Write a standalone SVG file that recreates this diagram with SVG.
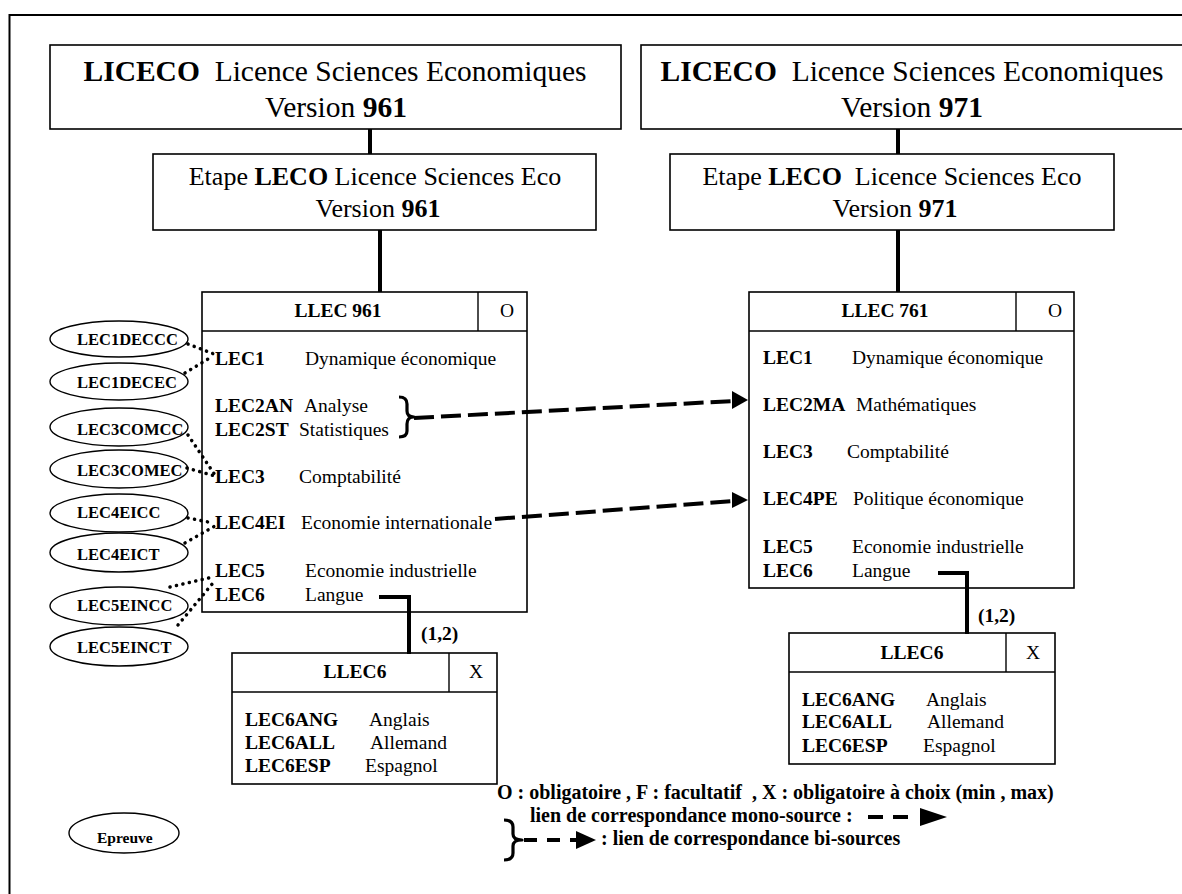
<svg xmlns="http://www.w3.org/2000/svg" width="1182" height="894" viewBox="0 0 1182 894">
<style>
.box{fill:#fff;stroke:#000;stroke-width:1.6}
.sep{stroke:#000;stroke-width:1.4;fill:none}
.t{font-family:"Liberation Serif","Times New Roman",serif;fill:#000}
.b{font-weight:bold}
.s29{font-size:29.5px}
.s26{font-size:26px}
.s19{font-size:19.5px}
.s20{font-size:20px}
.s16{font-size:16.5px}
.mid{text-anchor:middle}
.conn{stroke:#000;stroke-width:4;fill:none}
.dash{stroke:#000;stroke-width:4;fill:none;stroke-dasharray:20 7}
.dot{stroke:#000;stroke-width:3.5;fill:none;stroke-dasharray:0.1 6.5;stroke-linecap:round}
.brace{stroke:#000;stroke-width:3.2;fill:none;stroke-linejoin:round}
.ell{fill:#fff;stroke:#000;stroke-width:1.4}
</style>
<rect x="9.5" y="15" width="1200" height="900" fill="none" stroke="#000" stroke-width="2"/>

<g id="liceco961">
  <rect class="box" x="50" y="45" width="571" height="84"/>
  <text class="t s29 mid" x="335" y="81" xml:space="preserve"><tspan class="b">LICECO</tspan>  Licence Sciences Economiques</text>
  <text class="t s29 mid" x="336" y="117">Version <tspan class="b">961</tspan></text>
</g>
<g id="liceco971">
  <rect class="box" x="641" y="45" width="600" height="84"/>
  <text class="t s29 mid" x="912" y="81" xml:space="preserve"><tspan class="b">LICECO</tspan>  Licence Sciences Economiques</text>
  <text class="t s29 mid" x="912" y="117">Version <tspan class="b">971</tspan></text>
</g>
<g id="leco961">
  <rect class="box" x="153" y="154" width="443" height="76"/>
  <text class="t s26 mid" x="375" y="185">Etape <tspan class="b">LECO</tspan> Licence Sciences Eco</text>
  <text class="t s26 mid" x="378" y="217">Version <tspan class="b">961</tspan></text>
</g>
<g id="leco971">
  <rect class="box" x="670" y="154" width="444" height="76"/>
  <text class="t s26 mid" x="892" y="185" xml:space="preserve">Etape <tspan class="b">LECO</tspan>  Licence Sciences Eco</text>
  <text class="t s26 mid" x="895" y="217">Version <tspan class="b">971</tspan></text>
</g>

<g id="llec961">
  <rect class="box" x="202" y="292" width="325" height="320"/>
  <line class="sep" x1="202" y1="331" x2="527" y2="331"/>
  <line class="sep" x1="478" y1="292" x2="478" y2="331"/>
  <text class="t b s19 mid" x="338" y="317">LLEC 961</text>
  <text class="t s19 mid" x="507" y="317">O</text>
  <g class="t s19">
    <text class="b" x="215" y="365">LEC1</text><text x="305" y="365">Dynamique économique</text>
    <text class="b" x="215" y="412">LEC2AN</text><text x="304" y="412">Analyse</text>
    <text class="b" x="215" y="436">LEC2ST</text><text x="299" y="436">Statistiques</text>
    <text class="b" x="215" y="483">LEC3</text><text x="299" y="483">Comptabilité</text>
    <text class="b" x="215" y="529">LEC4EI</text><text x="301" y="529">Economie internationale</text>
    <text class="b" x="215" y="577">LEC5</text><text x="305" y="577">Economie industrielle</text>
    <text class="b" x="215" y="601">LEC6</text><text x="305" y="601">Langue</text>
  </g>
</g>

<g id="llec761">
  <rect class="box" x="749" y="292" width="325" height="296"/>
  <line class="sep" x1="749" y1="331" x2="1074" y2="331"/>
  <line class="sep" x1="1016" y1="292" x2="1016" y2="331"/>
  <text class="t b s19 mid" x="885" y="317">LLEC 761</text>
  <text class="t s19 mid" x="1055" y="317">O</text>
  <g class="t s19">
    <text class="b" x="763" y="364">LEC1</text><text x="852" y="364">Dynamique économique</text>
    <text class="b" x="763" y="411">LEC2MA</text><text x="856" y="411">Mathématiques</text>
    <text class="b" x="763" y="458">LEC3</text><text x="847" y="458">Comptabilité</text>
    <text class="b" x="763" y="505">LEC4PE</text><text x="853" y="505">Politique économique</text>
    <text class="b" x="763" y="553">LEC5</text><text x="852" y="553">Economie industrielle</text>
    <text class="b" x="763" y="577">LEC6</text><text x="852" y="577">Langue</text>
  </g>
</g>

<g id="llec6-left">
  <rect class="box" x="232" y="653" width="265" height="131"/>
  <line class="sep" x1="232" y1="692" x2="497" y2="692"/>
  <line class="sep" x1="449" y1="653" x2="449" y2="692"/>
  <text class="t b s19 mid" x="355" y="678">LLEC6</text>
  <text class="t s19 mid" x="476" y="678">X</text>
  <g class="t s19">
    <text class="b" x="245" y="726">LEC6ANG</text><text x="369" y="726">Anglais</text>
    <text class="b" x="245" y="749">LEC6ALL</text><text x="370" y="749">Allemand</text>
    <text class="b" x="245" y="772">LEC6ESP</text><text x="365" y="772">Espagnol</text>
  </g>
</g>

<g id="llec6-right">
  <rect class="box" x="789" y="633" width="266" height="131"/>
  <line class="sep" x1="789" y1="672" x2="1055" y2="672"/>
  <line class="sep" x1="1006" y1="633" x2="1006" y2="672"/>
  <text class="t b s19 mid" x="912" y="659">LLEC6</text>
  <text class="t s19 mid" x="1033" y="659">X</text>
  <g class="t s19">
    <text class="b" x="802" y="706">LEC6ANG</text><text x="926" y="706">Anglais</text>
    <text class="b" x="802" y="728">LEC6ALL</text><text x="927" y="728">Allemand</text>
    <text class="b" x="802" y="752">LEC6ESP</text><text x="923" y="752">Espagnol</text>
  </g>
</g>

<g id="ep-lec1deccc"><ellipse class="ell" cx="119" cy="339" rx="69" ry="18"/><text class="t b s16" x="77" y="345">LEC1DECCC</text></g>
<g id="ep-lec1decec"><ellipse class="ell" cx="119" cy="381.5" rx="69" ry="18.5"/><text class="t b s16" x="77" y="388">LEC1DECEC</text></g>
<g id="ep-lec3comcc"><ellipse class="ell" cx="119" cy="427" rx="69" ry="19"/><text class="t b s16" x="77" y="435">LEC3COMCC</text></g>
<g id="ep-lec3comec"><ellipse class="ell" cx="119" cy="469" rx="69" ry="19"/><text class="t b s16" x="77" y="476">LEC3COMEC</text></g>
<g id="ep-lec4eicc"><ellipse class="ell" cx="119" cy="513" rx="69" ry="19"/><text class="t b s16" x="77" y="518">LEC4EICC</text></g>
<g id="ep-lec4eict"><ellipse class="ell" cx="119" cy="552.5" rx="69" ry="19.5"/><text class="t b s16" x="77" y="560">LEC4EICT</text></g>
<g id="ep-lec5eincc"><ellipse class="ell" cx="119" cy="606" rx="69" ry="19"/><text class="t b s16" x="77" y="611">LEC5EINCC</text></g>
<g id="ep-lec5einct"><ellipse class="ell" cx="119" cy="646.5" rx="69" ry="19.5"/><text class="t b s16" x="77" y="653">LEC5EINCT</text></g>

<g id="epreuve"><ellipse class="ell" cx="124" cy="833" rx="55" ry="20"/><text class="t b" style="font-size:15.5px" x="97" y="843">Epreuve</text></g>

<g id="legend">
  <text class="t b s20" x="497" y="799" xml:space="preserve">O : obligatoire , F : facultatif  , X : obligatoire à choix (min , max)</text>
  <text class="t b s20" x="530" y="822">lien de correspondance mono-source :</text>
  <line x1="868" y1="817" x2="918" y2="817" stroke="#000" stroke-width="4" stroke-dasharray="15 10"/>
  <polygon points="920,808 947,817 920,826" fill="#000"/>
  <path class="brace" d="M504,820 Q513,820 513,827 L513,834 Q513,840 522,840 Q513,840 513,846 L513,853 Q513,860 504,860"/>
  <line x1="524" y1="840" x2="576" y2="840" stroke="#000" stroke-width="4" stroke-dasharray="13 10"/>
  <polygon points="576,831 596,840 576,849" fill="#000"/>
  <text class="t b s20" x="601" y="845">: lien de correspondance bi-sources</text>
</g>

<g id="connectors">
  <line class="conn" x1="370" y1="129" x2="370" y2="154"/>
  <line class="conn" x1="380" y1="230" x2="380" y2="292"/>
  <line class="conn" x1="898" y1="129" x2="898" y2="154"/>
  <line class="conn" x1="898" y1="230" x2="898" y2="292"/>
  <polyline class="conn" points="379,597 409,597 409,654"/>
  <polyline class="conn" points="938,573 967,573 967,634"/>
  <text class="t b s19" x="421" y="640">(1,2)</text>
  <text class="t b s19" x="978" y="622">(1,2)</text>
  <path class="brace" d="M399,397 Q407,397 407,404 L407,411 Q407,417 414,417 Q407,417 407,424 L407,431 Q407,437 399,437"/>
  <line class="dash" x1="414" y1="418" x2="733" y2="401"/>
  <polygon points="732,391 748,400 732,409" fill="#000"/>
  <line class="dash" x1="495" y1="519" x2="733" y2="501"/>
  <polygon points="732,492 748,500 732,508" fill="#000"/>
  <line class="dot" x1="188" y1="344" x2="214" y2="354"/>
  <line class="dot" x1="185" y1="373" x2="213" y2="356"/>
  <line class="dot" x1="188" y1="435" x2="215" y2="475"/>
  <line class="dot" x1="187" y1="468" x2="215" y2="476"/>
  <line class="dot" x1="188" y1="518" x2="213" y2="523"/>
  <line class="dot" x1="185" y1="543" x2="215" y2="526"/>
  <line class="dot" x1="170" y1="587" x2="213" y2="577"/>
  <line class="dot" x1="178" y1="625" x2="213" y2="583"/>
</g>
</svg>
